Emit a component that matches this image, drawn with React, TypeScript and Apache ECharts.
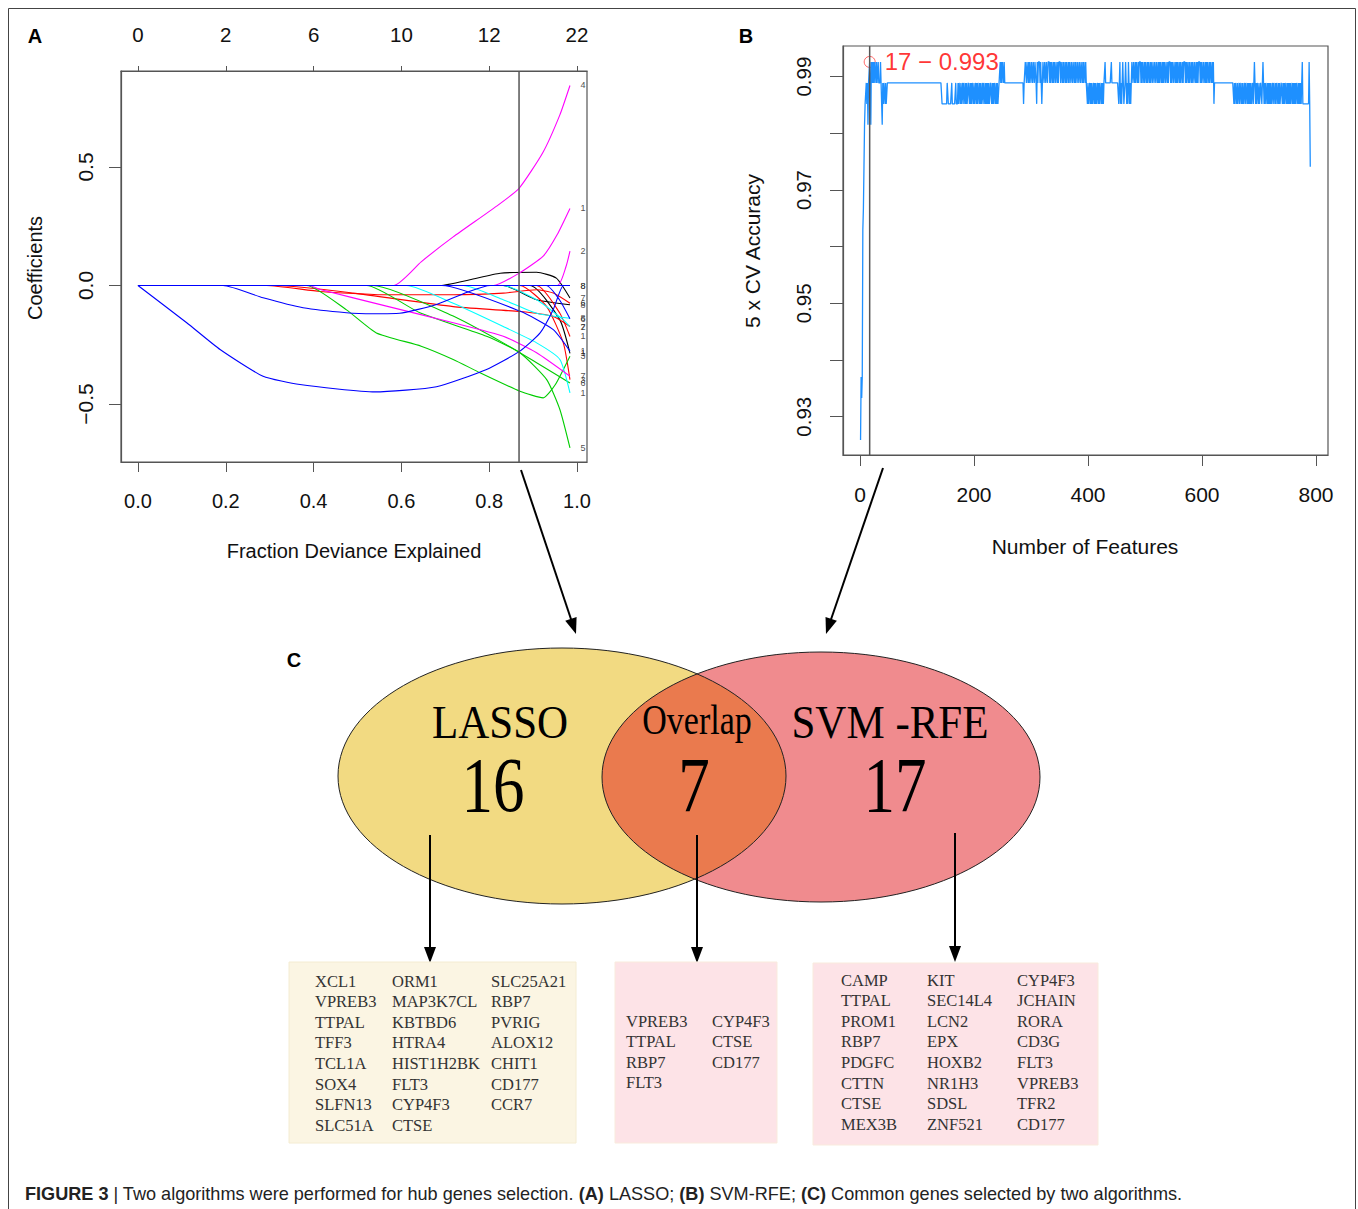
import React, { useEffect, useRef } from "react";
import * as echarts from "echarts";

const SANS = '"Liberation Sans", Arial, Helvetica, sans-serif';
const SERIF = '"Liberation Serif", "Times New Roman", Times, serif';

// ---------------- Panel A : LASSO coefficient paths ----------------
const lassoDevTicks = [0, 0.2, 0.4, 0.6, 0.8, 1.0];
const lassoDfLabels = ["0", "2", "6", "10", "12", "22"];
const lassoCoefTicks = [-0.5, 0, 0.5];
const lassoDevRange = [-0.0387, 1.0228];
const lassoCoefRange = [-0.7447, 0.9051];
const lassoChosenDev = 0.868;

const pathBlack1 = [[0, 0], [0.689, 0], [0.756, 0.024], [0.825, 0.052], [0.908, 0.056], [0.953, 0.031], [0.984, -0.053]];
const pathBlack2 = [[0, 0], [0.832, 0], [0.908, -0.06], [0.984, -0.081]];
const pathBlack3 = [[0, 0], [0.893, 0], [0.961, -0.145], [0.984, -0.286]];
const pathRed1 = [[0, 0], [0.293, 0], [0.415, -0.025], [0.566, -0.039], [0.718, -0.039], [0.832, -0.032], [0.908, -0.018], [0.946, -0.032], [0.984, -0.075]];
const pathRed2 = [[0, 0], [0.316, 0], [0.49, -0.032], [0.718, -0.089], [0.87, -0.11], [0.946, -0.131], [0.984, -0.173]];
const pathRed3 = [[0, 0], [0.87, 0], [0.931, -0.089], [0.969, -0.243], [0.984, -0.397]];
const pathRed4 = [[0, 0], [0.908, 0], [0.961, -0.117], [0.984, -0.215]];
const pathGreen1 = [[0, 0], [0.384, 0], [0.475, -0.103], [0.543, -0.2], [0.645, -0.256], [0.718, -0.312], [0.779, -0.368], [0.87, -0.446], [0.923, -0.474], [0.95, -0.42], [0.984, -0.298]];
const pathGreen2 = [[0, 0], [0.521, 0], [0.642, -0.115], [0.794, -0.214], [0.87, -0.284], [0.931, -0.397], [0.961, -0.523], [0.984, -0.685]];
const pathGreen3 = [[0, 0], [0.536, 0], [0.718, -0.129], [0.832, -0.242], [0.908, -0.326], [0.984, -0.411]];
const pathCyan1 = [[0, 0], [0.612, 0], [0.718, -0.075], [0.832, -0.173], [0.908, -0.242], [0.961, -0.312], [0.984, -0.453]];
const pathCyan2 = [[0, 0], [0.741, 0], [0.832, -0.06], [0.908, -0.117], [0.984, -0.138]];
const pathCyan3 = [[0, 0], [0.832, 0], [0.908, -0.06], [0.969, -0.145], [0.984, -0.174]];
const pathMagenta1 = [[0, 0], [0.582, 0], [0.645, 0.1], [0.718, 0.205], [0.817, 0.335], [0.868, 0.41], [0.922, 0.56], [0.961, 0.72], [0.984, 0.844]];
const pathMagenta2 = [[0, 0], [0.81, 0], [0.87, 0.054], [0.923, 0.124], [0.955, 0.215], [0.984, 0.325]];
const pathMagenta3 = [[0, 0], [0.955, 0], [0.975, 0.08], [0.984, 0.145]];
const pathMagenta4 = [[0, 0], [0.39, 0], [0.415, -0.017], [0.566, -0.087], [0.718, -0.157], [0.832, -0.214], [0.908, -0.284], [0.984, -0.383]];
const pathBlue1 = [[0, 0], [0.111, -0.157], [0.187, -0.27], [0.285, -0.383], [0.369, -0.418], [0.54, -0.449], [0.68, -0.427], [0.794, -0.354], [0.87, -0.277], [0.916, -0.2], [0.946, -0.101], [0.969, 0], [0.984, 0]];
const pathBlue2 = [[0, 0], [0.194, 0], [0.285, -0.052], [0.376, -0.094], [0.475, -0.115], [0.536, -0.119], [0.596, -0.117], [0.68, -0.08], [0.756, -0.024], [0.802, 0], [0.984, 0]];
const pathBlue3 = [[0, 0], [0.692, 0], [0.87, -0.108], [0.946, -0.186], [0.984, -0.277]];
const pathBlue4 = [[0, 0], [0.93, 0], [0.96, -0.06], [0.984, -0.14]];

const lassoPaths = [
  { color: "#000000", label: "7", data: pathBlack1 },
  { color: "#000000", label: "8", data: pathBlack2 },
  { color: "#000000", label: "1", data: pathBlack3 },
  { color: "#FF0000", label: "6", data: pathRed1 },
  { color: "#FF0000", label: "2", data: pathRed2 },
  { color: "#FF0000", label: "3", data: pathRed3 },
  { color: "#FF0000", label: "1", data: pathRed4 },
  { color: "#00CD00", label: "3", data: pathGreen1 },
  { color: "#00CD00", label: "5", data: pathGreen2 },
  { color: "#00CD00", label: "6", data: pathGreen3 },
  { color: "#00FFFF", label: "1", data: pathCyan1 },
  { color: "#00FFFF", label: "8", data: pathCyan2 },
  { color: "#00FFFF", label: "7", data: pathCyan3 },
  { color: "#FF00FF", label: "4", data: pathMagenta1 },
  { color: "#FF00FF", label: "1", data: pathMagenta2 },
  { color: "#FF00FF", label: "2", data: pathMagenta3 },
  { color: "#FF00FF", label: "7", data: pathMagenta4 },
  { color: "#0000FF", label: "8", data: pathBlue1 },
  { color: "#0000FF", label: "8", data: pathBlue2 },
  { color: "#0000FF", label: "1", data: pathBlue3 },
  { color: "#0000FF", label: "6", data: pathBlue4 },
];

// ---------------- Panel B : SVM-RFE 5x CV accuracy ----------------
const svmXTicks = [0, 200, 400, 600, 800];
const svmYTicks = [0.93, 0.94, 0.95, 0.96, 0.97, 0.98, 0.99];
const svmYLabelled = [0.93, 0.95, 0.97, 0.99];
const svmXRange = [-29.8, 821.1];
const svmYRange = [0.92324, 0.99541];
const svmBestN = 17;
const svmBestAcc = 0.9926;
const svmBestText = "17 \u2212 0.993";
// accuracy for 1..17 features
const svmEarlyAcc = [0.9259, 0.937, 0.9333, 0.937, 0.963, 0.9667, 0.9741, 0.9815, 0.9852, 0.9852, 0.9889, 0.9852, 0.9889, 0.9815, 0.9889, 0.9889, 0.9926];
// accuracy levels for 18..789 features (T top, M mid, L low, D dip)
const svmLevelValues = { T: 0.9926, M: 0.9889, L: 0.9852, D: 0.9815 };
const svmLevelStrings = [
  "MDTMT", "MTMTTMTMMTMMMTMM", "D", "MLMMLMLLMMM",
  "MMMMMMMMMMMMMMMMMMMMMMMMMMMMMMMMMMMMMMMMMMMMMMMMMMMMMMMMMMMMMMMMMMMMMMMMMMMMMMMMMMMMMMMMMMMMM",
  "LLLLLLLLLMMLLLLLLMLLLLLLMLL",
  "LMLMMLMLLMLMMLM", "LMLLMMLMLMLMMLM", "LLMLMLMMLMLMLLM", "LMMLMLMLMLMLLMM", "LMLMLMMLMLMLLMM",
  "TMTMTTMTMM", "MMMMMMMMMM", "MMMMMMMMMM", "MMMMMMMMMM", "MLMM",
  "TTMTTMTMTTMT", "TMTTMTTMLTMT", "TTMTMLMTTMTT", "MTTMTTTMTMTT", "MTMTTMTTMTMT",
  "TTMTTMTMTTMT", "MTTMTMTTMTTM", "TTMTMTTMTTMT", "TMTTMTMTTMTM",
  "MLMLLMLMLM", "LLMLMLMLLM", "LMLMMLMLML",
  "MMTMMMMMMM", "MMMTMMMMMM", "MMMMMM",
  "LMTLMLMTMLLMTMLMLTMLMLMT",
  "TMTTMTMTTMTMT", "TTMTMTTMTMTTM", "TMTTMTMTTMTTM", "TTMTTMTMTMTTM", "TMTMTTMTTMTMT", "TTMTMTTMTTMTM",
  "TMTTMTMTTMTMT", "TTMTMTTMTMTTM", "TMTTMTTMTMTMT", "TTMTMTTMTTMTM", "TMTTMTMTTMTMT",
  "LMM",
  "MMMMMMMMMMMMMMMMMMMMMMMMMMMMMMMM",
  "LMLMMLMLLMLM", "MLMLMLLMLMML", "MLMLMLMLLMLM", "TMLMLMMLMLLM", "MLMTMLMLMMLM",
  "LMLMLMLLMLMM", "LMLMMLMLMLLM", "MLMLMLMMLMLM", "LMLMLLMLMLML", "MLMMLMLMLMLM",
  "TLLLLLLLLLLLTL",
];
const svmLastAcc = 0.9741;

// ---------------- Panel C : Venn + gene lists ----------------
const vennNames = ["LASSO", "Overlap", "SVM -RFE"];
const vennCounts = [16, 7, 17];
const lassoGenesCol1 = ["XCL1", "VPREB3", "TTPAL", "TFF3", "TCL1A", "SOX4", "SLFN13", "SLC51A"];
const lassoGenesCol2 = ["ORM1", "MAP3K7CL", "KBTBD6", "HTRA4", "HIST1H2BK", "FLT3", "CYP4F3", "CTSE"];
const lassoGenesCol3 = ["SLC25A21", "RBP7", "PVRIG", "ALOX12", "CHIT1", "CD177", "CCR7"];
const overlapGenesCol1 = ["VPREB3", "TTPAL", "RBP7", "FLT3"];
const overlapGenesCol2 = ["CYP4F3", "CTSE", "CD177"];
const svmGenesCol1 = ["CAMP", "TTPAL", "PROM1", "RBP7", "PDGFC", "CTTN", "CTSE", "MEX3B"];
const svmGenesCol2 = ["KIT", "SEC14L4", "LCN2", "EPX", "HOXB2", "NR1H3", "SDSL", "ZNF521"];
const svmGenesCol3 = ["CYP4F3", "JCHAIN", "RORA", "CD3G", "FLT3", "VPREB3", "TFR2", "CD177"];

// ---------------- helpers ----------------
function arrow(x1: number, y1: number, x2: number, y2: number, head = 16, half = 6) {
  const dx = x2 - x1, dy = y2 - y1, L = Math.hypot(dx, dy);
  const ux = dx / L, uy = dy / L;
  const bx = x2 - ux * head, by = y2 - uy * head;
  return [
    { type: "line", shape: { x1, y1, x2: bx + ux * 2, y2: by + uy * 2 }, style: { stroke: "#000", lineWidth: 2 }, silent: true },
    { type: "polygon", shape: { points: [[x2, y2], [bx - uy * half, by + ux * half], [bx + uy * half, by - ux * half]] }, style: { fill: "#000" }, silent: true },
  ];
}

type Ell = { cx: number; cy: number; rx: number; ry: number };
function ellipseIntersection(a: Ell, b: Ell) {
  const inside = (e: Ell, x: number, y: number) => ((x - e.cx) / e.rx) ** 2 + ((y - e.cy) / e.ry) ** 2 <= 1.0001;
  const pts: number[][] = [];
  const n = 720;
  for (const [e, o] of [[a, b], [b, a]] as [Ell, Ell][]) {
    for (let i = 0; i < n; i++) {
      const t = (2 * Math.PI * i) / n;
      const x = e.cx + e.rx * Math.cos(t), y = e.cy + e.ry * Math.sin(t);
      if (inside(o, x, y)) pts.push([x, y]);
    }
  }
  const mx = pts.reduce((s, p) => s + p[0], 0) / pts.length;
  const my = pts.reduce((s, p) => s + p[1], 0) / pts.length;
  pts.sort((p, q) => Math.atan2(p[1] - my, p[0] - mx) - Math.atan2(q[1] - my, q[0] - mx));
  return pts;
}

function geneColumn(genes: string[], x: number, y0: number, step: number) {
  return genes.map((g, i) => ({
    type: "text", x, y: y0 + i * step, silent: true,
    style: { text: g, fontFamily: SERIF, fontSize: 16.5, fill: "#333", textAlign: "left", textVerticalAlign: "middle" },
  }));
}

function txt(text: string, x: number, y: number, size: number, extra: any = {}, styleExtra: any = {}) {
  return {
    type: "text", x, y, silent: true, ...extra,
    style: { text, fontFamily: SANS, fontSize: size, fill: "#111", textAlign: "center", textVerticalAlign: "middle", ...styleExtra },
  };
}

export default function App() {
  const ref = useRef<HTMLDivElement>(null);

  useEffect(() => {
    if (!ref.current) return;
    const chart = echarts.init(ref.current, null, { renderer: "svg" });

    const svmLevels = svmLevelStrings.join("").split("").map((c) => (svmLevelValues as any)[c]);
    const svmAcc = svmEarlyAcc.concat(svmLevels, [svmLastAcc]);
    const svmData = svmAcc.map((v, i) => [i + 1, v]);

    const leftE: Ell = { cx: 562, cy: 776, rx: 224, ry: 128 };
    const rightE: Ell = { cx: 821, cy: 777, rx: 219, ry: 125 };
    const overlap = ellipseIntersection(leftE, rightE);

    const axisGray = "#555";
    const tickLabel = { fontFamily: SANS, color: "#111" };
    const boxLine = { show: true, onZero: false, lineStyle: { color: axisGray, width: 1.2 } };

    const lassoSeries = lassoPaths.map((p) => ({
      type: "line", xAxisIndex: 0, yAxisIndex: 0, data: p.data,
      showSymbol: false, symbol: "none", smooth: 0.18, clip: false, silent: true,
      lineStyle: { color: p.color, width: 1.1 },
    }));

    const option: any = {
      animation: false,
      backgroundColor: "#ffffff",
      grid: [
        { left: 121, top: 71, width: 466, height: 391, show: true, borderColor: axisGray, borderWidth: 1.2, backgroundColor: "transparent" },
        { left: 843, top: 46, width: 485, height: 409, show: true, borderColor: axisGray, borderWidth: 1.2, backgroundColor: "transparent" },
      ],
      xAxis: [
        {
          gridIndex: 0, type: "value", min: lassoDevRange[0], max: lassoDevRange[1],
          position: "bottom", axisLine: boxLine, splitLine: { show: false },
          axisTick: { length: 10, customValues: lassoDevTicks, lineStyle: { color: axisGray } },
          axisLabel: { ...tickLabel, fontSize: 20, margin: 29, customValues: lassoDevTicks, formatter: (v: number) => v.toFixed(1) },
        },
        {
          gridIndex: 0, type: "value", min: lassoDevRange[0], max: lassoDevRange[1],
          position: "top", axisLine: boxLine, splitLine: { show: false },
          axisTick: { length: 5, customValues: lassoDevTicks, lineStyle: { color: axisGray } },
          axisLabel: {
            ...tickLabel, fontSize: 20.5, margin: 26, customValues: lassoDevTicks,
            formatter: (v: number) => lassoDfLabels[lassoDevTicks.findIndex((t) => Math.abs(t - v) < 1e-6)] ?? "",
          },
        },
        {
          gridIndex: 1, type: "value", min: svmXRange[0], max: svmXRange[1],
          position: "bottom", axisLine: boxLine, splitLine: { show: false },
          axisTick: { length: 11, customValues: svmXTicks, lineStyle: { color: axisGray } },
          axisLabel: { ...tickLabel, fontSize: 21, margin: 29, customValues: svmXTicks, formatter: (v: number) => String(Math.round(v)) },
        },
      ],
      yAxis: [
        {
          gridIndex: 0, type: "value", min: lassoCoefRange[0], max: lassoCoefRange[1],
          position: "left", axisLine: boxLine, splitLine: { show: false },
          axisTick: { length: 12, customValues: lassoCoefTicks, lineStyle: { color: axisGray } },
          axisLabel: {
            ...tickLabel, fontSize: 21, rotate: 90, margin: 25, customValues: lassoCoefTicks,
            formatter: (v: number) => (v < -1e-9 ? "\u2212" + Math.abs(v).toFixed(1) : Math.abs(v).toFixed(1)),
          },
        },
        {
          gridIndex: 1, type: "value", min: svmYRange[0], max: svmYRange[1],
          position: "left", axisLine: boxLine, splitLine: { show: false },
          axisTick: { length: 13, customValues: svmYTicks, lineStyle: { color: axisGray } },
          axisLabel: {
            ...tickLabel, fontSize: 20.5, rotate: 90, margin: 29, customValues: svmYLabelled,
            formatter: (v: number) => v.toFixed(2),
          },
        },
      ],
      series: [
        ...lassoSeries,
        {
          type: "scatter", xAxisIndex: 0, yAxisIndex: 0, clip: false, silent: true, symbolSize: 1,
          itemStyle: { color: "rgba(0,0,0,0)" },
          data: lassoPaths.map((p) => ({ value: p.data[p.data.length - 1], name: p.label })),
          label: { show: true, position: "right", distance: 10, formatter: (d: any) => d.name, fontSize: 9, color: "#222", fontFamily: SANS },
        },
        {
          type: "line", xAxisIndex: 0, yAxisIndex: 0, clip: false, silent: true, showSymbol: false, symbol: "none",
          data: [[lassoChosenDev, lassoCoefRange[0]], [lassoChosenDev, lassoCoefRange[1]]],
          lineStyle: { color: "#555", width: 1.5 },
        },
        {
          type: "line", xAxisIndex: 2, yAxisIndex: 1, clip: false, silent: true, showSymbol: false, symbol: "none",
          data: svmData, lineStyle: { color: "#1E90FF", width: 1.3 },
        },
        {
          type: "line", xAxisIndex: 2, yAxisIndex: 1, clip: false, silent: true, showSymbol: false, symbol: "none",
          data: [[svmBestN, svmYRange[0]], [svmBestN, svmYRange[1]]],
          lineStyle: { color: "#555", width: 1.5 },
        },
        {
          type: "scatter", xAxisIndex: 2, yAxisIndex: 1, clip: false, silent: true, symbol: "circle", symbolSize: 11,
          itemStyle: { color: "rgba(0,0,0,0)", borderColor: "#FF4040", borderWidth: 1 },
          data: [[svmBestN, svmBestAcc]],
          label: { show: true, position: "right", distance: 9, formatter: svmBestText, fontSize: 24, color: "#FF0000", fontFamily: SANS },
        },
      ],
      graphic: [
        // outer frame
        { type: "rect", shape: { x: 8.5, y: 8.5, width: 1347, height: 1300 }, style: { fill: "none", stroke: "#444", lineWidth: 1 }, silent: true, z: 0 },
        // panel letters
        txt("A", 35, 36, 20, {}, { fontWeight: "bold", fill: "#000" }),
        txt("B", 746, 36, 20, {}, { fontWeight: "bold", fill: "#000" }),
        txt("C", 294, 660, 20, {}, { fontWeight: "bold", fill: "#000" }),
        // axis titles
        txt("Coefficients", 35, 268, 20, { rotation: Math.PI / 2 }),
        txt("Fraction Deviance Explained", 354, 551, 20),
        txt("5 x CV Accuracy", 752, 251, 21, { rotation: Math.PI / 2 }),
        txt("Number of Features", 1085, 546, 21),
        // venn
        { type: "ellipse", shape: leftE, style: { fill: "#F2DA82", stroke: "none" }, silent: true },
        { type: "ellipse", shape: rightE, style: { fill: "#F08B8E", stroke: "none" }, silent: true },
        { type: "polygon", shape: { points: overlap }, style: { fill: "#EA7A4E", stroke: "none" }, silent: true },
        { type: "ellipse", shape: leftE, style: { fill: "none", stroke: "#222", lineWidth: 1 }, silent: true },
        { type: "ellipse", shape: rightE, style: { fill: "none", stroke: "#222", lineWidth: 1 }, silent: true },
        txt(vennNames[0], 500, 722, 43, { scaleY: 1.1 }, { fontFamily: SERIF, fill: "#000" }),
        txt(String(vennCounts[0]), 493, 784, 63, { scaleY: 1.25 }, { fontFamily: SERIF, fill: "#000" }),
        txt(vennNames[1], 697, 720, 34, { scaleY: 1.25 }, { fontFamily: SERIF, fill: "#000" }),
        txt(String(vennCounts[1]), 694, 784, 63, { scaleY: 1.25 }, { fontFamily: SERIF, fill: "#000" }),
        txt(vennNames[2], 890, 722, 43, { scaleY: 1.1 }, { fontFamily: SERIF, fill: "#000" }),
        txt(String(vennCounts[2]), 895, 784, 63, { scaleY: 1.25 }, { fontFamily: SERIF, fill: "#000" }),
        // arrows
        ...arrow(521, 470, 576, 634),
        ...arrow(883, 468, 826, 634),
        ...arrow(430, 835, 430, 963),
        ...arrow(697, 835, 697, 963),
        ...arrow(955, 833, 955, 962),
        // gene boxes
        { type: "rect", shape: { x: 289, y: 962, width: 287, height: 181 }, style: { fill: "#FBF5E3", stroke: "#F4ECD2", lineWidth: 1 }, silent: true },
        { type: "rect", shape: { x: 615, y: 962, width: 162, height: 181 }, style: { fill: "#FDE3E7", stroke: "#F9EBDD", lineWidth: 1 }, silent: true },
        { type: "rect", shape: { x: 813, y: 963, width: 285, height: 182 }, style: { fill: "#FDE3E7", stroke: "#F9EBDD", lineWidth: 1 }, silent: true },
        ...geneColumn(lassoGenesCol1, 315, 981, 20.6),
        ...geneColumn(lassoGenesCol2, 392, 981, 20.6),
        ...geneColumn(lassoGenesCol3, 491, 981, 20.6),
        ...geneColumn(overlapGenesCol1, 626, 1021, 20.6),
        ...geneColumn(overlapGenesCol2, 712, 1021, 20.6),
        ...geneColumn(svmGenesCol1, 841, 980, 20.6),
        ...geneColumn(svmGenesCol2, 927, 980, 20.6),
        ...geneColumn(svmGenesCol3, 1017, 980, 20.6),
        // caption
        {
          type: "text", x: 25, y: 1194, silent: true,
          style: {
            text: "{b|FIGURE 3} | Two algorithms were performed for hub genes selection. {b|(A)} LASSO; {b|(B)} SVM-RFE; {b|(C)} Common genes selected by two algorithms.",
            fontFamily: SANS, fontSize: 18.1, fill: "#222", textAlign: "left", textVerticalAlign: "middle",
            rich: { b: { fontFamily: SANS, fontSize: 18.1, fontWeight: "bold", fill: "#222" } },
          },
        },
      ],
    };

    chart.setOption(option);
    return () => chart.dispose();
  }, []);

  return <div ref={ref} style={{ position: "absolute", left: 0, top: 0, width: 1358, height: 1209, background: "#fff" }} />;
}
